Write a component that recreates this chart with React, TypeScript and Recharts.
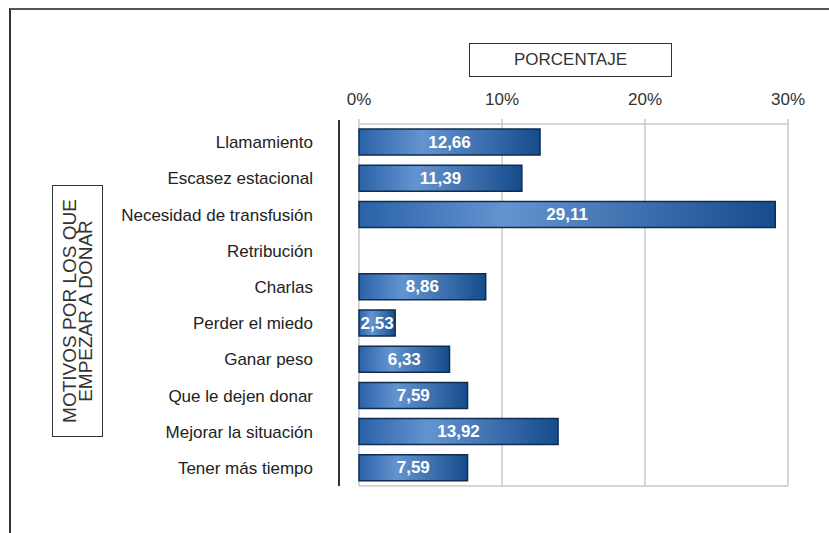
import React from "react";
import { BarChart, Bar, XAxis, YAxis, CartesianGrid, LabelList } from "recharts";

const categories = [
  "Llamamiento",
  "Escasez estacional",
  "Necesidad de transfusión",
  "Retribución",
  "Charlas",
  "Perder el miedo",
  "Ganar peso",
  "Que le dejen donar",
  "Mejorar la situación",
  "Tener más tiempo",
];
const percentages: (number | null)[] = [12.66, 11.39, 29.11, null, 8.86, 2.53, 6.33, 7.59, 13.92, 7.59];
const xTicks = [0, 10, 20, 30];
const xTitle = "PORCENTAJE";
const yTitleLines = ["MOTIVOS POR LOS QUE", "EMPEZAR A DONAR"];

const data = categories.map((name, i) => ({ name, value: percentages[i] }));

const FONT = '"Liberation Sans", Arial, sans-serif';
const GRID = "#c8c8c8";

const fmt = (v: number) => v.toFixed(2).replace(".", ",");

const ValueLabel = (props: any) => {
  const { x, y, width, height, value } = props;
  if (value === null || value === undefined || value === 0) return null;
  return (
    <text
      x={x + width / 2}
      y={y + height / 2}
      textAnchor="middle"
      dominantBaseline="central"
      fill="#ffffff"
      fontWeight="bold"
      fontSize={17}
      fontFamily={FONT}
    >
      {fmt(value)}
    </text>
  );
};

export default function App() {
  return (
    <div style={{ position: "absolute", left: 0, top: 0, width: 829, height: 533, background: "#fff", fontFamily: FONT }}>
      {/* outer frame */}
      <div style={{ position: "absolute", left: 9, top: 8, right: 0, bottom: 0, borderLeft: "2px solid #333", borderTop: "2px solid #555" }} />
      <BarChart
        width={829}
        height={533}
        data={data}
        layout="vertical"
        margin={{ top: 94, right: 41, bottom: 46, left: 0 }}
        barSize={26}
        style={{ position: "absolute", left: 0, top: 0 }}
      >
        <defs>
          <linearGradient id="barGrad" x1="0" y1="0" x2="1" y2="0">
            <stop offset="0%" stopColor="#2a62a8" />
            <stop offset="35%" stopColor="#6494d0" />
            <stop offset="100%" stopColor="#164c8c" />
          </linearGradient>
        </defs>
        <CartesianGrid horizontal={false} stroke={GRID} strokeWidth={1.5} />
        <XAxis
          type="number"
          orientation="top"
          domain={[0, 30]}
          ticks={xTicks}
          tickFormatter={(v: number) => `${v}%`}
          axisLine={{ stroke: GRID, strokeWidth: 1.5 }}
          tickLine={{ stroke: GRID, strokeWidth: 1.5 }}
          tickSize={5}
          tickMargin={14}
          height={30}
          tick={{ fill: "#333", fontSize: 17, fontFamily: FONT }}
        />
        <XAxis
          xAxisId="bottom"
          type="number"
          orientation="bottom"
          domain={[0, 30]}
          tick={false}
          tickLine={false}
          axisLine={{ stroke: GRID, strokeWidth: 1.5 }}
          height={1}
        />
        <YAxis
          type="category"
          dataKey="name"
          width={359}
          axisLine={false}
          tickLine={false}
          tickSize={0}
          tickMargin={46}
          interval={0}
          tick={{ fill: "#222", fontSize: 17, fontFamily: FONT }}
        />
        <Bar dataKey="value" fill="url(#barGrad)" stroke="#0f2d50" strokeWidth={1.5} isAnimationActive={false}>
          <LabelList dataKey="value" content={<ValueLabel />} />
        </Bar>
      </BarChart>
      {/* dark axis line left of plot */}
      <div style={{ position: "absolute", left: 338, top: 120, width: 2, height: 366, background: "#333" }} />
      {/* x title box */}
      <div
        style={{
          position: "absolute",
          left: 469,
          top: 43,
          width: 201,
          height: 32,
          border: "1.5px solid #333",
          display: "flex",
          alignItems: "center",
          justifyContent: "center",
          fontSize: 17,
          color: "#333",
          boxSizing: "content-box",
        }}
      >
        {xTitle}
      </div>
      {/* y title box */}
      <div
        style={{
          position: "absolute",
          left: 52,
          top: 185,
          width: 49,
          height: 250,
          border: "1.5px solid #333",
        }}
      >
        <div
          style={{
            position: "absolute",
            left: "50%",
            top: "50%",
            transform: "translate(-50%, -50%) rotate(-90deg)",
            whiteSpace: "nowrap",
            textAlign: "center",
            fontSize: 19,
            lineHeight: "16px",
            color: "#333",
          }}
        >
          {yTitleLines.map((l) => (
            <div key={l}>{l}</div>
          ))}
        </div>
      </div>
    </div>
  );
}
